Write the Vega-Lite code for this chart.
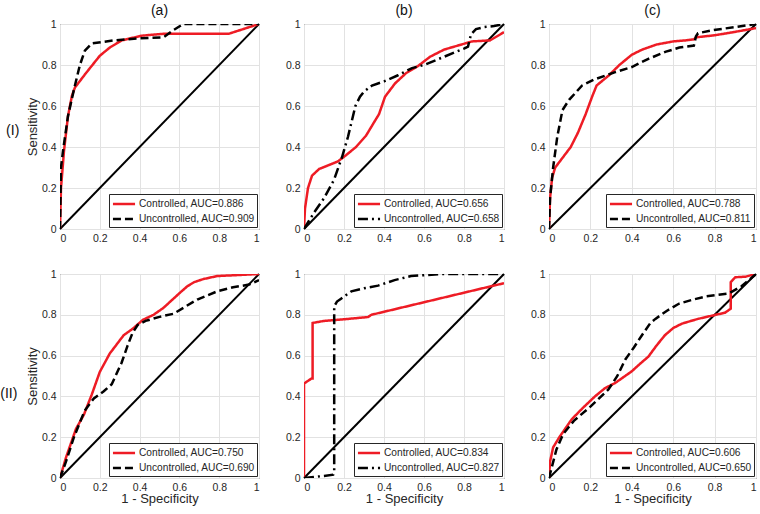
{
"$schema": "https://vega.github.io/schema/vega-lite/v6.json",
"padding": {"left": 0, "top": 3, "right": 2, "bottom": 2},
"config": {
  "font": "Liberation Sans",
  "view": {"stroke": "#262626", "strokeWidth": 1},
  "axis": {"grid": true, "gridColor": "#e2e2e2", "gridWidth": 1, "domain": false, "ticks": false, "labelPadding": 4, "labelFontSize": 10.5, "labelColor": "#262626", "titleFontSize": 13, "titleFontWeight": "normal", "titleColor": "#262626", "tickCount": 5},
  "axisX": {"titlePadding": 0},
  "legend": {"orient": "bottom-right", "offset": 2, "padding": 2, "strokeColor": "#262626", "fillColor": "white", "symbolType": "M-1.7,0L1.7,0", "symbolSize": 169, "symbolOffset": 5, "symbolStrokeWidth": 2.5, "labelFontSize": 10.2, "labelColor": "#262626", "rowPadding": 1, "labelOffset": 7},
  "title": {"fontSize": 14, "fontWeight": "normal", "color": "#111111", "offset": 1},
  "concat": {"spacing": 20}
},
"datasets": {
  "diag": [{"x": 0, "y": 0}, {"x": 1, "y": 1}],
  "aI": [
    {"s": "Controlled, AUC=0.886", "x": 0, "y": 0},
    {"s": "Controlled, AUC=0.886", "x": 0.005, "y": 0.2},
    {"s": "Controlled, AUC=0.886", "x": 0.02, "y": 0.38},
    {"s": "Controlled, AUC=0.886", "x": 0.04, "y": 0.55},
    {"s": "Controlled, AUC=0.886", "x": 0.06, "y": 0.65},
    {"s": "Controlled, AUC=0.886", "x": 0.075, "y": 0.69},
    {"s": "Controlled, AUC=0.886", "x": 0.13, "y": 0.76},
    {"s": "Controlled, AUC=0.886", "x": 0.2, "y": 0.845},
    {"s": "Controlled, AUC=0.886", "x": 0.25, "y": 0.885},
    {"s": "Controlled, AUC=0.886", "x": 0.31, "y": 0.92},
    {"s": "Controlled, AUC=0.886", "x": 0.41, "y": 0.943},
    {"s": "Controlled, AUC=0.886", "x": 0.53, "y": 0.953},
    {"s": "Controlled, AUC=0.886", "x": 0.85, "y": 0.953},
    {"s": "Controlled, AUC=0.886", "x": 1, "y": 1},
    {"s": "Uncontrolled, AUC=0.909", "x": 0, "y": 0},
    {"s": "Uncontrolled, AUC=0.909", "x": 0.005, "y": 0.3},
    {"s": "Uncontrolled, AUC=0.909", "x": 0.015, "y": 0.38},
    {"s": "Uncontrolled, AUC=0.909", "x": 0.04, "y": 0.55},
    {"s": "Uncontrolled, AUC=0.909", "x": 0.07, "y": 0.68},
    {"s": "Uncontrolled, AUC=0.909", "x": 0.1, "y": 0.8},
    {"s": "Uncontrolled, AUC=0.909", "x": 0.125, "y": 0.87},
    {"s": "Uncontrolled, AUC=0.909", "x": 0.16, "y": 0.905},
    {"s": "Uncontrolled, AUC=0.909", "x": 0.27, "y": 0.92},
    {"s": "Uncontrolled, AUC=0.909", "x": 0.4, "y": 0.93},
    {"s": "Uncontrolled, AUC=0.909", "x": 0.52, "y": 0.935},
    {"s": "Uncontrolled, AUC=0.909", "x": 0.57, "y": 0.97},
    {"s": "Uncontrolled, AUC=0.909", "x": 0.62, "y": 1},
    {"s": "Uncontrolled, AUC=0.909", "x": 1, "y": 1}
  ],
  "bI": [
    {"s": "Controlled, AUC=0.656", "x": 0, "y": 0},
    {"s": "Controlled, AUC=0.656", "x": 0.005, "y": 0.1},
    {"s": "Controlled, AUC=0.656", "x": 0.02, "y": 0.2},
    {"s": "Controlled, AUC=0.656", "x": 0.04, "y": 0.26},
    {"s": "Controlled, AUC=0.656", "x": 0.076, "y": 0.293},
    {"s": "Controlled, AUC=0.656", "x": 0.12, "y": 0.31},
    {"s": "Controlled, AUC=0.656", "x": 0.17, "y": 0.33},
    {"s": "Controlled, AUC=0.656", "x": 0.21, "y": 0.36},
    {"s": "Controlled, AUC=0.656", "x": 0.26, "y": 0.4},
    {"s": "Controlled, AUC=0.656", "x": 0.31, "y": 0.455},
    {"s": "Controlled, AUC=0.656", "x": 0.35, "y": 0.52},
    {"s": "Controlled, AUC=0.656", "x": 0.375, "y": 0.56},
    {"s": "Controlled, AUC=0.656", "x": 0.405, "y": 0.645},
    {"s": "Controlled, AUC=0.656", "x": 0.455, "y": 0.71},
    {"s": "Controlled, AUC=0.656", "x": 0.51, "y": 0.76},
    {"s": "Controlled, AUC=0.656", "x": 0.57, "y": 0.795},
    {"s": "Controlled, AUC=0.656", "x": 0.63, "y": 0.84},
    {"s": "Controlled, AUC=0.656", "x": 0.7, "y": 0.875},
    {"s": "Controlled, AUC=0.656", "x": 0.77, "y": 0.895},
    {"s": "Controlled, AUC=0.656", "x": 0.84, "y": 0.915},
    {"s": "Controlled, AUC=0.656", "x": 0.93, "y": 0.92},
    {"s": "Controlled, AUC=0.656", "x": 1, "y": 0.96},
    {"s": "Uncontrolled, AUC=0.658", "x": 0, "y": 0},
    {"s": "Uncontrolled, AUC=0.658", "x": 0.05, "y": 0.08},
    {"s": "Uncontrolled, AUC=0.658", "x": 0.1, "y": 0.15},
    {"s": "Uncontrolled, AUC=0.658", "x": 0.15, "y": 0.24},
    {"s": "Uncontrolled, AUC=0.658", "x": 0.19, "y": 0.35},
    {"s": "Uncontrolled, AUC=0.658", "x": 0.22, "y": 0.45},
    {"s": "Uncontrolled, AUC=0.658", "x": 0.257, "y": 0.6},
    {"s": "Uncontrolled, AUC=0.658", "x": 0.28, "y": 0.645},
    {"s": "Uncontrolled, AUC=0.658", "x": 0.3, "y": 0.67},
    {"s": "Uncontrolled, AUC=0.658", "x": 0.34, "y": 0.7},
    {"s": "Uncontrolled, AUC=0.658", "x": 0.4, "y": 0.72},
    {"s": "Uncontrolled, AUC=0.658", "x": 0.47, "y": 0.75},
    {"s": "Uncontrolled, AUC=0.658", "x": 0.54, "y": 0.785},
    {"s": "Uncontrolled, AUC=0.658", "x": 0.6, "y": 0.8},
    {"s": "Uncontrolled, AUC=0.658", "x": 0.7, "y": 0.84},
    {"s": "Uncontrolled, AUC=0.658", "x": 0.8, "y": 0.88},
    {"s": "Uncontrolled, AUC=0.658", "x": 0.82, "y": 0.89},
    {"s": "Uncontrolled, AUC=0.658", "x": 0.835, "y": 0.95},
    {"s": "Uncontrolled, AUC=0.658", "x": 0.86, "y": 0.975},
    {"s": "Uncontrolled, AUC=0.658", "x": 0.9, "y": 0.985},
    {"s": "Uncontrolled, AUC=0.658", "x": 0.95, "y": 0.99},
    {"s": "Uncontrolled, AUC=0.658", "x": 1, "y": 1}
  ],
  "cI": [
    {"s": "Controlled, AUC=0.788", "x": 0, "y": 0},
    {"s": "Controlled, AUC=0.788", "x": 0.005, "y": 0.15},
    {"s": "Controlled, AUC=0.788", "x": 0.015, "y": 0.25},
    {"s": "Controlled, AUC=0.788", "x": 0.03, "y": 0.3},
    {"s": "Controlled, AUC=0.788", "x": 0.06, "y": 0.34},
    {"s": "Controlled, AUC=0.788", "x": 0.105, "y": 0.4},
    {"s": "Controlled, AUC=0.788", "x": 0.14, "y": 0.47},
    {"s": "Controlled, AUC=0.788", "x": 0.177, "y": 0.56},
    {"s": "Controlled, AUC=0.788", "x": 0.21, "y": 0.65},
    {"s": "Controlled, AUC=0.788", "x": 0.23, "y": 0.7},
    {"s": "Controlled, AUC=0.788", "x": 0.29, "y": 0.75},
    {"s": "Controlled, AUC=0.788", "x": 0.34, "y": 0.8},
    {"s": "Controlled, AUC=0.788", "x": 0.4, "y": 0.85},
    {"s": "Controlled, AUC=0.788", "x": 0.45, "y": 0.875},
    {"s": "Controlled, AUC=0.788", "x": 0.52, "y": 0.9},
    {"s": "Controlled, AUC=0.788", "x": 0.6, "y": 0.915},
    {"s": "Controlled, AUC=0.788", "x": 0.66, "y": 0.92},
    {"s": "Controlled, AUC=0.788", "x": 0.7, "y": 0.925},
    {"s": "Controlled, AUC=0.788", "x": 0.71, "y": 0.935},
    {"s": "Controlled, AUC=0.788", "x": 0.8, "y": 0.945},
    {"s": "Controlled, AUC=0.788", "x": 0.89, "y": 0.96},
    {"s": "Controlled, AUC=0.788", "x": 1, "y": 0.98},
    {"s": "Uncontrolled, AUC=0.811", "x": 0, "y": 0},
    {"s": "Uncontrolled, AUC=0.811", "x": 0.005, "y": 0.15},
    {"s": "Uncontrolled, AUC=0.811", "x": 0.02, "y": 0.3},
    {"s": "Uncontrolled, AUC=0.811", "x": 0.04, "y": 0.45},
    {"s": "Uncontrolled, AUC=0.811", "x": 0.065, "y": 0.58},
    {"s": "Uncontrolled, AUC=0.811", "x": 0.097, "y": 0.63},
    {"s": "Uncontrolled, AUC=0.811", "x": 0.16, "y": 0.7},
    {"s": "Uncontrolled, AUC=0.811", "x": 0.22, "y": 0.73},
    {"s": "Uncontrolled, AUC=0.811", "x": 0.32, "y": 0.765},
    {"s": "Uncontrolled, AUC=0.811", "x": 0.4, "y": 0.79},
    {"s": "Uncontrolled, AUC=0.811", "x": 0.48, "y": 0.83},
    {"s": "Uncontrolled, AUC=0.811", "x": 0.565, "y": 0.865},
    {"s": "Uncontrolled, AUC=0.811", "x": 0.63, "y": 0.885},
    {"s": "Uncontrolled, AUC=0.811", "x": 0.7, "y": 0.895},
    {"s": "Uncontrolled, AUC=0.811", "x": 0.71, "y": 0.94},
    {"s": "Uncontrolled, AUC=0.811", "x": 0.72, "y": 0.955},
    {"s": "Uncontrolled, AUC=0.811", "x": 0.79, "y": 0.97},
    {"s": "Uncontrolled, AUC=0.811", "x": 0.9, "y": 0.985},
    {"s": "Uncontrolled, AUC=0.811", "x": 1, "y": 1}
  ],
  "aII": [
    {"s": "Controlled, AUC=0.750", "x": 0, "y": 0},
    {"s": "Controlled, AUC=0.750", "x": 0.03, "y": 0.1},
    {"s": "Controlled, AUC=0.750", "x": 0.08, "y": 0.24},
    {"s": "Controlled, AUC=0.750", "x": 0.12, "y": 0.31},
    {"s": "Controlled, AUC=0.750", "x": 0.16, "y": 0.41},
    {"s": "Controlled, AUC=0.750", "x": 0.2, "y": 0.52},
    {"s": "Controlled, AUC=0.750", "x": 0.25, "y": 0.61},
    {"s": "Controlled, AUC=0.750", "x": 0.32, "y": 0.7},
    {"s": "Controlled, AUC=0.750", "x": 0.37, "y": 0.735},
    {"s": "Controlled, AUC=0.750", "x": 0.416, "y": 0.775},
    {"s": "Controlled, AUC=0.750", "x": 0.47, "y": 0.8},
    {"s": "Controlled, AUC=0.750", "x": 0.52, "y": 0.834},
    {"s": "Controlled, AUC=0.750", "x": 0.56, "y": 0.87},
    {"s": "Controlled, AUC=0.750", "x": 0.605, "y": 0.91},
    {"s": "Controlled, AUC=0.750", "x": 0.64, "y": 0.94},
    {"s": "Controlled, AUC=0.750", "x": 0.674, "y": 0.96},
    {"s": "Controlled, AUC=0.750", "x": 0.72, "y": 0.975},
    {"s": "Controlled, AUC=0.750", "x": 0.79, "y": 0.99},
    {"s": "Controlled, AUC=0.750", "x": 0.9, "y": 0.995},
    {"s": "Controlled, AUC=0.750", "x": 1, "y": 1},
    {"s": "Uncontrolled, AUC=0.690", "x": 0, "y": 0},
    {"s": "Uncontrolled, AUC=0.690", "x": 0.03, "y": 0.08},
    {"s": "Uncontrolled, AUC=0.690", "x": 0.07, "y": 0.2},
    {"s": "Uncontrolled, AUC=0.690", "x": 0.124, "y": 0.33},
    {"s": "Uncontrolled, AUC=0.690", "x": 0.17, "y": 0.39},
    {"s": "Uncontrolled, AUC=0.690", "x": 0.22, "y": 0.425},
    {"s": "Uncontrolled, AUC=0.690", "x": 0.26, "y": 0.46},
    {"s": "Uncontrolled, AUC=0.690", "x": 0.31, "y": 0.566},
    {"s": "Uncontrolled, AUC=0.690", "x": 0.34, "y": 0.65},
    {"s": "Uncontrolled, AUC=0.690", "x": 0.364, "y": 0.71},
    {"s": "Uncontrolled, AUC=0.690", "x": 0.39, "y": 0.75},
    {"s": "Uncontrolled, AUC=0.690", "x": 0.43, "y": 0.77},
    {"s": "Uncontrolled, AUC=0.690", "x": 0.5, "y": 0.79},
    {"s": "Uncontrolled, AUC=0.690", "x": 0.57, "y": 0.805},
    {"s": "Uncontrolled, AUC=0.690", "x": 0.63, "y": 0.84},
    {"s": "Uncontrolled, AUC=0.690", "x": 0.69, "y": 0.875},
    {"s": "Uncontrolled, AUC=0.690", "x": 0.79, "y": 0.915},
    {"s": "Uncontrolled, AUC=0.690", "x": 0.87, "y": 0.935},
    {"s": "Uncontrolled, AUC=0.690", "x": 0.95, "y": 0.948},
    {"s": "Uncontrolled, AUC=0.690", "x": 1, "y": 0.97}
  ],
  "bII": [
    {"s": "Controlled, AUC=0.834", "x": 0, "y": 0},
    {"s": "Controlled, AUC=0.834", "x": 0, "y": 0.463},
    {"s": "Controlled, AUC=0.834", "x": 0.038, "y": 0.488},
    {"s": "Controlled, AUC=0.834", "x": 0.043, "y": 0.488},
    {"s": "Controlled, AUC=0.834", "x": 0.043, "y": 0.76},
    {"s": "Controlled, AUC=0.834", "x": 0.1, "y": 0.77},
    {"s": "Controlled, AUC=0.834", "x": 0.2, "y": 0.778},
    {"s": "Controlled, AUC=0.834", "x": 0.32, "y": 0.789},
    {"s": "Controlled, AUC=0.834", "x": 0.337, "y": 0.8},
    {"s": "Controlled, AUC=0.834", "x": 1, "y": 0.955},
    {"s": "Uncontrolled, AUC=0.827", "x": 0, "y": 0},
    {"s": "Uncontrolled, AUC=0.827", "x": 0.1, "y": 0.01},
    {"s": "Uncontrolled, AUC=0.827", "x": 0.146, "y": 0.016},
    {"s": "Uncontrolled, AUC=0.827", "x": 0.151, "y": 0.03},
    {"s": "Uncontrolled, AUC=0.827", "x": 0.151, "y": 0.842},
    {"s": "Uncontrolled, AUC=0.827", "x": 0.165, "y": 0.865},
    {"s": "Uncontrolled, AUC=0.827", "x": 0.187, "y": 0.88},
    {"s": "Uncontrolled, AUC=0.827", "x": 0.237, "y": 0.915},
    {"s": "Uncontrolled, AUC=0.827", "x": 0.3, "y": 0.93},
    {"s": "Uncontrolled, AUC=0.827", "x": 0.37, "y": 0.943},
    {"s": "Uncontrolled, AUC=0.827", "x": 0.453, "y": 0.97},
    {"s": "Uncontrolled, AUC=0.827", "x": 0.535, "y": 0.99},
    {"s": "Uncontrolled, AUC=0.827", "x": 0.7, "y": 1},
    {"s": "Uncontrolled, AUC=0.827", "x": 1, "y": 1}
  ],
  "cII": [
    {"s": "Controlled, AUC=0.606", "x": 0, "y": 0},
    {"s": "Controlled, AUC=0.606", "x": 0.005, "y": 0.08},
    {"s": "Controlled, AUC=0.606", "x": 0.02, "y": 0.15},
    {"s": "Controlled, AUC=0.606", "x": 0.05, "y": 0.2},
    {"s": "Controlled, AUC=0.606", "x": 0.11, "y": 0.288},
    {"s": "Controlled, AUC=0.606", "x": 0.16, "y": 0.34},
    {"s": "Controlled, AUC=0.606", "x": 0.222, "y": 0.4},
    {"s": "Controlled, AUC=0.606", "x": 0.27, "y": 0.44},
    {"s": "Controlled, AUC=0.606", "x": 0.32, "y": 0.466},
    {"s": "Controlled, AUC=0.606", "x": 0.4, "y": 0.523},
    {"s": "Controlled, AUC=0.606", "x": 0.44, "y": 0.56},
    {"s": "Controlled, AUC=0.606", "x": 0.48, "y": 0.595},
    {"s": "Controlled, AUC=0.606", "x": 0.52, "y": 0.65},
    {"s": "Controlled, AUC=0.606", "x": 0.56, "y": 0.7},
    {"s": "Controlled, AUC=0.606", "x": 0.6, "y": 0.735},
    {"s": "Controlled, AUC=0.606", "x": 0.643, "y": 0.757},
    {"s": "Controlled, AUC=0.606", "x": 0.72, "y": 0.78},
    {"s": "Controlled, AUC=0.606", "x": 0.805, "y": 0.8},
    {"s": "Controlled, AUC=0.606", "x": 0.85, "y": 0.81},
    {"s": "Controlled, AUC=0.606", "x": 0.878, "y": 0.83},
    {"s": "Controlled, AUC=0.606", "x": 0.878, "y": 0.96},
    {"s": "Controlled, AUC=0.606", "x": 0.9, "y": 0.984},
    {"s": "Controlled, AUC=0.606", "x": 0.95, "y": 0.987},
    {"s": "Controlled, AUC=0.606", "x": 1, "y": 1},
    {"s": "Uncontrolled, AUC=0.650", "x": 0, "y": 0},
    {"s": "Uncontrolled, AUC=0.650", "x": 0.036, "y": 0.14},
    {"s": "Uncontrolled, AUC=0.650", "x": 0.068, "y": 0.215},
    {"s": "Uncontrolled, AUC=0.650", "x": 0.12, "y": 0.28},
    {"s": "Uncontrolled, AUC=0.650", "x": 0.2, "y": 0.35},
    {"s": "Uncontrolled, AUC=0.650", "x": 0.287, "y": 0.434},
    {"s": "Uncontrolled, AUC=0.650", "x": 0.33, "y": 0.5},
    {"s": "Uncontrolled, AUC=0.650", "x": 0.368, "y": 0.58},
    {"s": "Uncontrolled, AUC=0.650", "x": 0.41, "y": 0.64},
    {"s": "Uncontrolled, AUC=0.650", "x": 0.449, "y": 0.7},
    {"s": "Uncontrolled, AUC=0.650", "x": 0.49, "y": 0.76},
    {"s": "Uncontrolled, AUC=0.650", "x": 0.514, "y": 0.78},
    {"s": "Uncontrolled, AUC=0.650", "x": 0.57, "y": 0.82},
    {"s": "Uncontrolled, AUC=0.650", "x": 0.627, "y": 0.854},
    {"s": "Uncontrolled, AUC=0.650", "x": 0.69, "y": 0.873},
    {"s": "Uncontrolled, AUC=0.650", "x": 0.757, "y": 0.89},
    {"s": "Uncontrolled, AUC=0.650", "x": 0.87, "y": 0.905},
    {"s": "Uncontrolled, AUC=0.650", "x": 0.93, "y": 0.94},
    {"s": "Uncontrolled, AUC=0.650", "x": 1, "y": 1}
  ]
},
"spacing": 24,
"resolve": {"scale": {"color": "independent", "strokeDash": "independent"}, "legend": {"color": "independent", "strokeDash": "independent"}},
"vconcat": [
  {
    "title": {"text": "(I)", "orient": "left", "angle": 0, "anchor": "middle", "fontSize": 14, "offset": 0},
    "resolve": {"scale": {"color": "independent", "strokeDash": "independent"}, "legend": {"color": "independent", "strokeDash": "independent"}},
    "hconcat": [
      {
        "width": 199, "height": 205, "title": {"text": "(a)"},
        "encoding": {
          "x": {"field": "x", "type": "quantitative", "scale": {"domain": [0, 1]}, "axis": {"format": "~g", "title": null}},
          "y": {"field": "y", "type": "quantitative", "scale": {"domain": [0, 1]}, "axis": {"format": "~g", "title": "Sensitivity", "titlePadding": 2}}
        },
        "layer": [
          {"data": {"name": "diag"}, "mark": {"type": "line", "color": "black", "strokeWidth": 2}, "encoding": {}},
          {"data": {"name": "aI"}, "mark": {"type": "line", "strokeWidth": 2.5, "clip": true},
           "encoding": {"order": {"value": null},
             "color": {"field": "s", "type": "nominal", "scale": {"range": ["#ee1c25", "black"]}, "legend": {"title": null}},
             "strokeDash": {"field": "s", "type": "nominal", "scale": {"range": [[1, 0], [8, 4]]}, "legend": {"title": null}}}}
        ]
      },
      {
        "width": 200, "height": 205, "title": {"text": "(b)"},
        "encoding": {
          "x": {"field": "x", "type": "quantitative", "scale": {"domain": [0, 1]}, "axis": {"format": "~g", "title": null}},
          "y": {"field": "y", "type": "quantitative", "scale": {"domain": [0, 1]}, "axis": {"format": "~g", "title": null}}
        },
        "layer": [
          {"data": {"name": "diag"}, "mark": {"type": "line", "color": "black", "strokeWidth": 2}, "encoding": {}},
          {"data": {"name": "bI"}, "mark": {"type": "line", "strokeWidth": 2.5, "clip": true},
           "encoding": {"order": {"value": null},
             "color": {"field": "s", "type": "nominal", "scale": {"range": ["#ee1c25", "black"]}, "legend": {"title": null}},
             "strokeDash": {"field": "s", "type": "nominal", "scale": {"range": [[1, 0], [10, 4, 2, 4]]}, "legend": {"title": null}}}}
        ]
      },
      {
        "width": 207, "height": 205, "title": {"text": "(c)"},
        "encoding": {
          "x": {"field": "x", "type": "quantitative", "scale": {"domain": [0, 1]}, "axis": {"format": "~g", "title": null}},
          "y": {"field": "y", "type": "quantitative", "scale": {"domain": [0, 1]}, "axis": {"format": "~g", "title": null}}
        },
        "layer": [
          {"data": {"name": "diag"}, "mark": {"type": "line", "color": "black", "strokeWidth": 2}, "encoding": {}},
          {"data": {"name": "cI"}, "mark": {"type": "line", "strokeWidth": 2.5, "clip": true},
           "encoding": {"order": {"value": null},
             "color": {"field": "s", "type": "nominal", "scale": {"range": ["#ee1c25", "black"]}, "legend": {"title": null}},
             "strokeDash": {"field": "s", "type": "nominal", "scale": {"range": [[1, 0], [8, 4]]}, "legend": {"title": null}}}}
        ]
      }
    ]
  },
  {
    "title": {"text": "(II)", "orient": "left", "angle": 0, "anchor": "middle", "fontSize": 14, "offset": 0},
    "resolve": {"scale": {"color": "independent", "strokeDash": "independent"}, "legend": {"color": "independent", "strokeDash": "independent"}},
    "hconcat": [
      {
        "width": 199, "height": 204,
        "encoding": {
          "x": {"field": "x", "type": "quantitative", "scale": {"domain": [0, 1]}, "axis": {"format": "~g", "title": "1 - Specificity"}},
          "y": {"field": "y", "type": "quantitative", "scale": {"domain": [0, 1]}, "axis": {"format": "~g", "title": "Sensitivity", "titlePadding": 2}}
        },
        "layer": [
          {"data": {"name": "diag"}, "mark": {"type": "line", "color": "black", "strokeWidth": 2}, "encoding": {}},
          {"data": {"name": "aII"}, "mark": {"type": "line", "strokeWidth": 2.5, "clip": true},
           "encoding": {"order": {"value": null},
             "color": {"field": "s", "type": "nominal", "scale": {"range": ["#ee1c25", "black"]}, "legend": {"title": null}},
             "strokeDash": {"field": "s", "type": "nominal", "scale": {"range": [[1, 0], [8, 4]]}, "legend": {"title": null}}}}
        ]
      },
      {
        "width": 200, "height": 204,
        "encoding": {
          "x": {"field": "x", "type": "quantitative", "scale": {"domain": [0, 1]}, "axis": {"format": "~g", "title": "1 - Specificity"}},
          "y": {"field": "y", "type": "quantitative", "scale": {"domain": [0, 1]}, "axis": {"format": "~g", "title": null}}
        },
        "layer": [
          {"data": {"name": "diag"}, "mark": {"type": "line", "color": "black", "strokeWidth": 2}, "encoding": {}},
          {"data": {"name": "bII"}, "mark": {"type": "line", "strokeWidth": 2.5, "clip": true},
           "encoding": {"order": {"value": null},
             "color": {"field": "s", "type": "nominal", "scale": {"range": ["#ee1c25", "black"]}, "legend": {"title": null}},
             "strokeDash": {"field": "s", "type": "nominal", "scale": {"range": [[1, 0], [10, 4, 2, 4]]}, "legend": {"title": null}}}}
        ]
      },
      {
        "width": 207, "height": 204,
        "encoding": {
          "x": {"field": "x", "type": "quantitative", "scale": {"domain": [0, 1]}, "axis": {"format": "~g", "title": "1 - Specificity"}},
          "y": {"field": "y", "type": "quantitative", "scale": {"domain": [0, 1]}, "axis": {"format": "~g", "title": null}}
        },
        "layer": [
          {"data": {"name": "diag"}, "mark": {"type": "line", "color": "black", "strokeWidth": 2}, "encoding": {}},
          {"data": {"name": "cII"}, "mark": {"type": "line", "strokeWidth": 2.5, "clip": true},
           "encoding": {"order": {"value": null},
             "color": {"field": "s", "type": "nominal", "scale": {"range": ["#ee1c25", "black"]}, "legend": {"title": null}},
             "strokeDash": {"field": "s", "type": "nominal", "scale": {"range": [[1, 0], [8, 4]]}, "legend": {"title": null}}}}
        ]
      }
    ]
  }
]
}
